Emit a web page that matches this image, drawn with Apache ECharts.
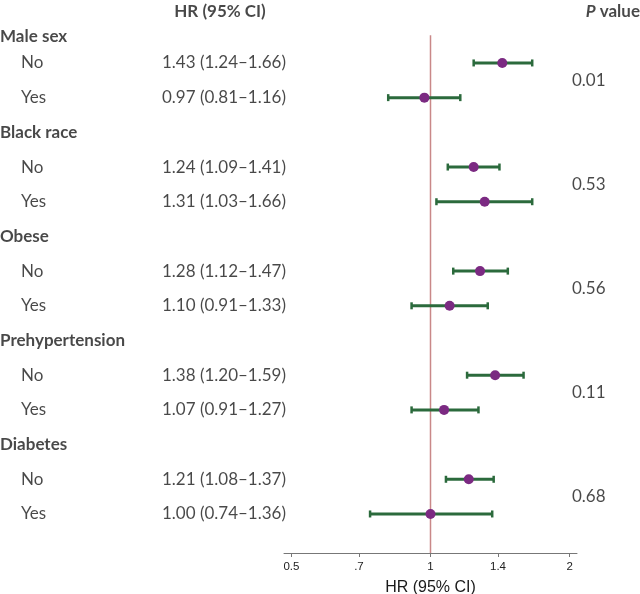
<!DOCTYPE html>
<html>
  <head>
    <meta charset="utf-8" />
    <title>HR forest plot</title>
    <script src="https://cdnjs.cloudflare.com/ajax/libs/echarts/6.0.0/echarts.min.js"></script>
  </head>
  <body style="margin:0">
    <div id="main" style="width: 640px;height: 594px;"></div>
    <script type="text/javascript">
      // subgroups, two levels each
      var groups = ['Male sex', 'Black race', 'Obese', 'Prehypertension', 'Diabetes']
      var levels = ['No', 'Yes']
      var hr = [1.43, 0.97, 1.24, 1.31, 1.28, 1.10, 1.38, 1.07, 1.21, 1.00]
      var lo = [1.24, 0.81, 1.09, 1.03, 1.12, 0.91, 1.20, 0.91, 1.08, 0.74]
      var hi = [1.66, 1.16, 1.41, 1.66, 1.47, 1.33, 1.59, 1.27, 1.37, 1.36]
      var pValues = ['0.01', '0.53', '0.56', '0.11', '0.68']
      var tickValues = [0.5, 0.7, 1, 1.4, 2]
      var tickLabels = ['0.5', '.7', '1', '1.4', '2']

      var font = 'Lato'
      var textSize = 17
      var yMin = -0.8
      var yMax = 15.125

      function rowOf(k) {
        return 3 * Math.floor(k / 2) + 1 + (k % 2)
      }
      function fmt(v) {
        return v.toFixed(2)
      }

      var logTicks = tickValues.map(function (v) { return Math.log(v) })

      var barData = hr.map(function (v, k) {
        return [Math.log(lo[k]), Math.log(hi[k]), rowOf(k)]
      })
      var pointData = hr.map(function (v, k) {
        return [Math.log(v), rowOf(k)]
      })

      function textSeries(data, align, bold) {
        return {
          type: 'scatter',
          xAxisIndex: 1,
          yAxisIndex: 1,
          symbolSize: 1,
          clip: false,
          silent: true,
          itemStyle: { color: 'rgba(0,0,0,0)' },
          label: {
            show: true,
            position: 'inside',
            align: align,
            verticalAlign: 'middle',
            fontFamily: font,
            fontSize: textSize,
            fontWeight: bold ? 'bold' : 'normal',
            color: '#1a1a1a',
            formatter: function (p) { return p.data.text }
          },
          data: data
        }
      }

      var groupData = groups.map(function (g, i) {
        var item = { value: [0, 3 * i], text: g }
        if (i === 0) item.label = { offset: [0, 8] }
        return item
      })
      var levelData = hr.map(function (v, k) {
        return { value: [21, rowOf(k)], text: levels[k % 2] }
      })
      var hrTextData = hr.map(function (v, k) {
        return { value: [286, rowOf(k)], text: fmt(v) + ' (' + fmt(lo[k]) + '–' + fmt(hi[k]) + ')' }
      })
      var pData = pValues.map(function (p, i) {
        return { value: [572, 3 * i + 1.5], text: p }
      })

      var myChart = echarts.init(document.getElementById('main'))

      var option = {
        animation: false,
        grid: [
          { left: 284, width: 293, top: 0.5, bottom: 41, outerBoundsMode: 'none', containLabel: false },
          { left: 0, right: 0, top: 0.5, bottom: 41, outerBoundsMode: 'none', containLabel: false }
        ],
        xAxis: [
          {
            type: 'value',
            gridIndex: 0,
            min: -0.73,
            max: 0.73,
            name: 'HR (95% CI)',
            nameLocation: 'middle',
            nameGap: 27,
            nameTextStyle: { fontFamily: 'Liberation Sans', fontSize: 16, color: '#1a1a1a' },
            axisLine: { show: true, onZero: false, lineStyle: { color: '#777', width: 1 } },
            axisTick: { show: true, length: 4, customValues: logTicks, lineStyle: { color: '#777' } },
            axisLabel: {
              customValues: logTicks,
              margin: 8,
              fontFamily: 'Liberation Sans',
              fontSize: 11.5,
              color: '#222',
              formatter: function (val) {
                var best = 0
                for (var i = 1; i < logTicks.length; i++) {
                  if (Math.abs(logTicks[i] - val) < Math.abs(logTicks[best] - val)) best = i
                }
                return tickLabels[best]
              }
            },
            splitLine: { show: false }
          },
          { type: 'value', gridIndex: 1, min: 0, max: 640, show: false }
        ],
        yAxis: [
          { type: 'value', gridIndex: 0, inverse: true, min: yMin, max: yMax, show: false },
          { type: 'value', gridIndex: 1, inverse: true, min: yMin, max: yMax, show: false }
        ],
        series: [
          {
            type: 'line',
            xAxisIndex: 0,
            yAxisIndex: 0,
            symbol: 'none',
            z: 1,
            silent: true,
            lineStyle: { color: '#c98888', width: 1.5 },
            data: [[0, 0.2], [0, yMax]]
          },
          {
            type: 'custom',
            xAxisIndex: 0,
            yAxisIndex: 0,
            z: 3,
            renderItem: function (params, api) {
              var a = api.coord([api.value(0), api.value(2)])
              var b = api.coord([api.value(1), api.value(2)])
              var style = { stroke: '#2b6a3c', lineWidth: 3 }
              var capStyle = { stroke: '#2b6a3c', lineWidth: 2.5 }
              return {
                type: 'group',
                children: [
                  { type: 'line', shape: { x1: a[0], y1: a[1], x2: b[0], y2: b[1] }, style: style },
                  { type: 'line', shape: { x1: a[0], y1: a[1] - 3.5, x2: a[0], y2: a[1] + 3.5 }, style: capStyle },
                  { type: 'line', shape: { x1: b[0], y1: b[1] - 3.5, x2: b[0], y2: b[1] + 3.5 }, style: capStyle }
                ]
              }
            },
            data: barData
          },
          {
            type: 'scatter',
            xAxisIndex: 0,
            yAxisIndex: 0,
            z: 4,
            symbolSize: 10,
            itemStyle: { color: '#7b2a82', opacity: 1 },
            data: pointData
          },
          textSeries(groupData, 'left', true),
          textSeries(levelData, 'left', false),
          textSeries(hrTextData, 'right', false),
          textSeries(pData, 'left', false),
          {
            type: 'scatter',
            xAxisIndex: 1,
            yAxisIndex: 1,
            symbolSize: 1,
            clip: false,
            silent: true,
            itemStyle: { color: 'rgba(0,0,0,0)' },
            label: {
              show: true,
              position: 'inside',
              verticalAlign: 'middle',
              fontFamily: font,
              fontSize: textSize,
              fontWeight: 'bold',
              color: '#1a1a1a',
              formatter: function (p) { return p.data.text },
              rich: {
                it: { fontFamily: font, fontSize: textSize, fontWeight: 'bold', fontStyle: 'italic', color: '#1a1a1a' },
                b: { fontFamily: font, fontSize: textSize, fontWeight: 'bold', color: '#1a1a1a' }
              }
            },
            data: [
              { value: [220, -0.47], text: 'HR (95% CI)', label: { align: 'center' } },
              { value: [640, -0.47], text: '{it|P} {b|value}', label: { align: 'right' } }
            ]
          }
        ]
      }

      myChart.setOption(option)
    </script>
  </body>
</html>
